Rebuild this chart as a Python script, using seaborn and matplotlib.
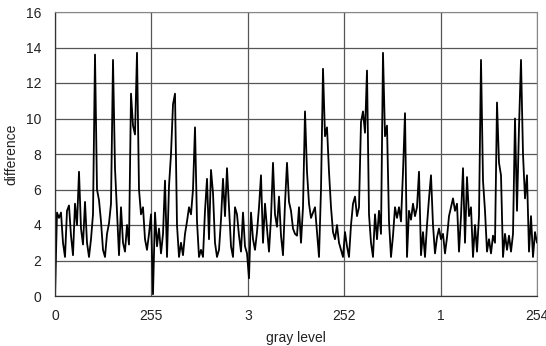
import numpy as np
import pandas as pd
import matplotlib
matplotlib.use("Agg")
import matplotlib.pyplot as plt
import seaborn as sns

# difference values (left to right)
difference = [
    0.0, 4.7, 4.4, 4.7, 3.0, 2.2, 4.8, 5.1, 3.4, 2.3,
    5.2, 4.0, 7.0, 3.8, 2.9, 5.3, 3.0, 2.2, 3.2, 4.6,
    13.6, 6.0, 5.4, 4.2, 2.6, 2.2, 3.5, 4.1, 5.2, 13.3,
    7.2, 4.8, 2.3, 5.0, 3.0, 2.5, 4.0, 2.9, 11.4, 9.6,
    9.1, 13.7, 6.0, 4.6, 5.0, 3.2, 2.6, 3.5, 4.6, 0.1,
    4.7, 2.8, 3.8, 2.4, 3.5, 6.5, 2.2, 6.2, 8.0, 10.8,
    11.4, 4.0, 2.2, 3.0, 2.3, 3.5, 4.2, 5.0, 4.6, 6.0,
    9.5, 4.2, 2.2, 2.6, 2.2, 4.8, 6.6, 3.2, 7.1, 5.8,
    3.0, 2.2, 2.6, 4.3, 6.6, 4.5, 7.2, 5.0, 2.8, 2.2,
    5.0, 4.6, 3.4, 2.5, 4.7, 2.8, 2.4, 1.0, 4.7, 3.2,
    2.6, 3.6, 5.0, 6.8, 3.0, 5.2, 3.8, 2.5, 4.4, 7.5,
    4.6, 3.9, 5.6, 3.4, 2.3, 5.2, 7.5, 5.3, 4.8, 3.8,
    3.5, 3.4, 5.0, 3.0, 5.0, 10.4, 7.0, 5.2, 4.4, 4.7,
    5.0, 3.6, 2.2, 6.0, 12.8, 9.0, 9.5, 7.0, 5.0, 3.6,
    3.2, 4.0, 3.0, 2.6, 2.2, 3.6, 2.8, 2.2, 4.0, 5.2,
    5.6, 4.5, 5.0, 9.8, 10.4, 9.2, 12.7, 4.6, 3.0, 2.2,
    4.6, 3.2, 4.8, 3.5, 13.7, 9.0, 9.6, 4.2, 2.2, 3.4,
    5.0, 4.4, 5.0, 4.2, 7.0, 10.3, 2.2, 4.8, 4.3, 5.2,
    4.5, 5.0, 7.0, 2.3, 3.6, 2.2, 4.0, 5.5, 6.8, 4.0,
    2.4, 3.3, 3.8, 3.2, 3.5, 2.4, 3.3, 4.5, 5.0, 5.5,
    4.8, 5.2, 2.5, 4.5, 7.2, 3.0, 6.7, 4.5, 5.0, 2.2,
    4.0, 2.5, 4.5, 13.3, 6.5, 4.8, 2.5, 3.2, 2.4, 3.4,
    3.0, 10.9, 7.5, 6.8, 2.2, 3.5, 2.6, 3.4, 2.5, 3.5,
    10.0, 4.8, 9.5, 13.3, 8.0, 5.5, 6.8, 2.5, 4.5, 2.2,
    3.6, 3.0,
]

tick_labels = ["0", "255", "3", "252", "1", "254"]
y_ticks = [0, 2, 4, 6, 8, 10, 12, 14, 16]
span = 1275  # five sweeps of 255 gray levels

sample = np.linspace(0, span, len(difference))
df = pd.DataFrame({"sample": sample, "difference": difference})

sns.set_style("white")
plt.rcParams["font.family"] = ["Liberation Sans", "DejaVu Sans"]

fig = plt.figure(figsize=(5.46, 3.46), dpi=100)
ax = fig.add_axes([55 / 546, 1 - 296 / 346, 482 / 546, 284 / 346])

sns.lineplot(data=df, x="sample", y="difference", ax=ax, color="black",
             linewidth=1.3)

tick_pos = np.linspace(0, span, len(tick_labels))
ax.set_xlim(0, span)
ax.set_ylim(0, 16)
ax.set_xticks(tick_pos)
ax.set_xticklabels(tick_labels)
ax.set_yticks(y_ticks)
ax.set_yticklabels([str(v) for v in y_ticks])
ax.tick_params(axis="both", length=0, labelsize=10, colors="#222222")
ax.tick_params(axis="x", pad=9)
ax.tick_params(axis="y", pad=10)

ax.grid(True, color="#555555", linewidth=0.9)
ax.set_axisbelow(True)
for side in ["top", "right"]:
    ax.spines[side].set_color("#888888")
    ax.spines[side].set_linestyle((0, (2, 1)))
    ax.spines[side].set_linewidth(0.8)
for side in ["left", "bottom"]:
    ax.spines[side].set_color("#333333")
    ax.spines[side].set_linewidth(0.9)

ax.set_xlabel("gray level", fontsize=10, color="#222222", labelpad=6)
ax.set_ylabel("difference", fontsize=10, color="#222222", labelpad=5)

fig.savefig("out.png", dpi=100)
